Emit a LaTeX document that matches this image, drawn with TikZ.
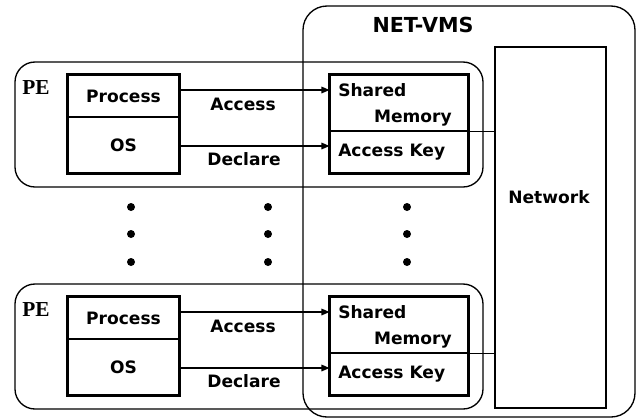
\documentclass[tikz,border=0pt]{standalone}
\usepackage{fontspec}
\setmainfont{DejaVu Sans}
\newfontfamily\pefont{Liberation Serif}
\usetikzlibrary{arrows.meta}

\tikzset{
  frame/.style={draw, line width=1pt, rounded corners=15pt},
  cell/.style={draw, line width=0.8pt, inner sep=0pt, minimum width=83.25pt},
  heavy/.style={draw, line width=2pt},
  txt/.style={inner sep=0pt, font=\bfseries\fontsize{12.8}{15}\selectfont},
  link/.style={line width=0.8pt, -{Triangle[length=6pt,width=5pt]}},
}

\begin{document}
\begin{tikzpicture}[x=0.75pt,y=0.75pt,yscale=-1,xscale=1]
\useasboundingbox (0,0) rectangle (637,419);

% NET-VMS frame and network
\draw[frame, rounded corners=18pt] (303,6) rectangle (635,417);
\node[txt, font=\bfseries\fontsize{15.5}{18}\selectfont] (vms) at (423,25) {NET-VMS};
\node[draw, line width=2pt, minimum width=83.25pt, minimum height=270.75pt] (net) at (550.5,227.5) {};
\node[txt] (nettxt) at (549,197) {Network};

% two PE rows, second one shifted down
\foreach \r/\dy in {a/0, b/222}{
  \draw[frame] (15,62+\dy) rectangle (483,187+\dy);
  \node[inner sep=0pt, font=\pefont\bfseries\fontsize{16}{18}\selectfont] (pe\r) at (36,88+\dy) {PE};

  \node[cell, minimum height=31.5pt, txt] (proc\r) at (123.5,96+\dy) {Process};
  \node[cell, minimum height=42pt, txt] (os\r) at (123.5,145+\dy) {OS};
  \draw[heavy] (proc\r.north west) rectangle (os\r.south east);

  \node[cell, minimum width=103.5pt, minimum height=42pt] (shm\r) at (399,103+\dy) {};
  \node[cell, minimum width=103.5pt, minimum height=31.5pt] (key\r) at (399,152+\dy) {};
  \draw[heavy] (shm\r.north west) rectangle (key\r.south east);
  \node[txt, align=left, anchor=north west] (shmtxt\r) at (338,83+\dy) {Shared\\[4.5pt]\hspace*{2.1em}Memory};
  \node[txt, anchor=west] (keytxt\r) at (338,152+\dy) {Access Key};

  \draw[link] (proc\r.east |- 0,90+\dy) -- (shm\r.west |- 0,90+\dy);
  \draw[link] (os\r.east |- 0,146+\dy) -- (key\r.west |- 0,146+\dy);
  \node[txt] (acc\r) at (243,104+\dy) {Access};
  \node[txt] (dcl\r) at (244,159+\dy) {Declare};

  \draw[line width=0.8pt] (shm\r.south east) -- (net.west |- shm\r.south east);
}

% ellipsis dots between the rows
\foreach \x in {131,268,407}
  \foreach \y in {207,234,262}
    \fill (\x,\y) circle (4);

\end{tikzpicture}
\end{document}
